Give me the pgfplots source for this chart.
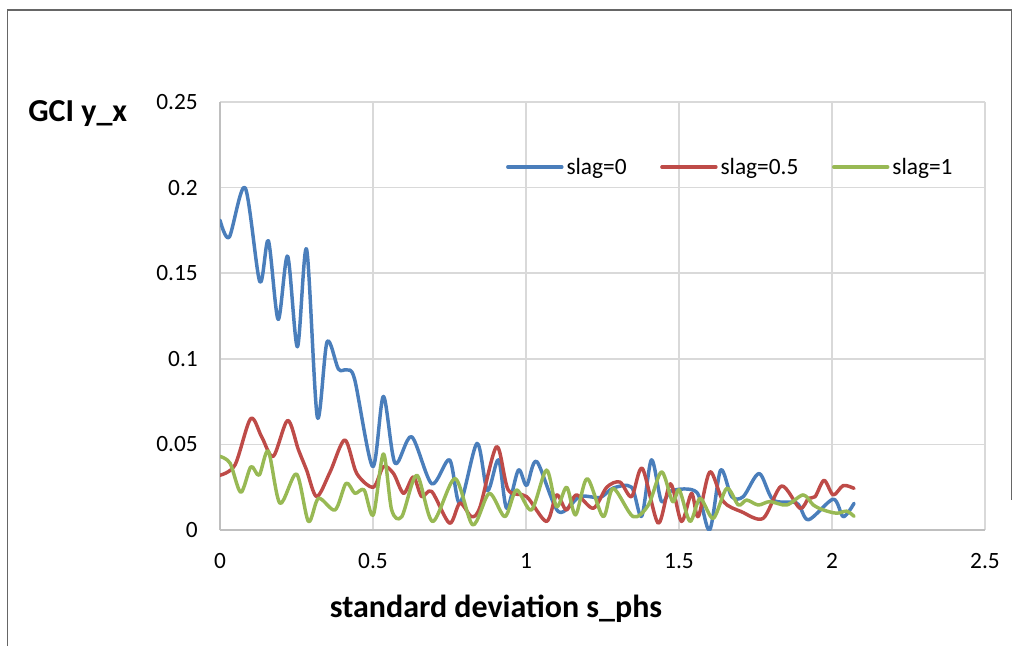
\documentclass[border=0pt]{standalone}
\usepackage{pgfplots}
\pgfplotsset{compat=1.18}
\usepackage{fontspec}
\setmainfont{Carlito}
\definecolor{cblue}{HTML}{4A7EBB}
\definecolor{cred}{HTML}{BE4B48}
\definecolor{cgreen}{HTML}{98B954}
\definecolor{cgrid}{HTML}{D9D9D9}
\definecolor{caxis}{HTML}{BFBFBF}
\begin{document}
\begin{tikzpicture}[x=0.75pt,y=0.75pt]
\path[use as bounding box] (0,0) rectangle (1019,646);
\draw[black!60, line width=1.1pt] (7.5,0) -- (7.5,636) -- (1011.5,636) -- (1011.5,146);
\begin{axis}[
  at={(165pt,87pt)}, anchor=south west,
  scale only axis, width=573.75pt, height=321pt,
  xmin=0, xmax=2.5, ymin=0, ymax=0.25,
  xtick={0,0.5,1,1.5,2,2.5}, xticklabels={0,0.5,1,1.5,2,2.5},
  ytick={0,0.05,0.1,0.15,0.2,0.25}, yticklabels={0,0.05,0.1,0.15,0.2,0.25},
  axis x line*=bottom, axis y line*=left,
  axis line style={draw=caxis, line width=1.5pt, -},
  major tick length=0pt,
  grid=major, major grid style={draw=cgrid, line width=1.1pt},
  /pgf/number format/assume math mode=true,
  ticklabel style={font=\fontsize{17.5}{20}\selectfont},
  yticklabel style={anchor=east, inner sep=0pt, xshift=-16.5pt},
  xticklabel style={anchor=north, inner sep=0pt, yshift=-17.2pt},
  legend columns=3,
  legend style={draw=none, fill=none, inner sep=0pt, outer sep=0pt,
    at={(0.374,0.848)}, anchor=west,
    nodes={inner sep=2.2pt, font=\fontsize{17.5}{20}\selectfont},
    /tikz/every even column/.append style={column sep=23pt}},
  legend image code/.code={\draw[#1] (0pt,0pt) -- (40.5pt,0pt);},
  every axis plot/.append style={line width=2.6pt, line cap=round, line join=round},
]
\addplot[cblue, smooth] coordinates {
(0,0.181) (0.03,0.171) (0.082,0.2) (0.13,0.145) (0.158,0.169) (0.19,0.123)
(0.221,0.16) (0.253,0.107) (0.283,0.164) (0.318,0.066) (0.35,0.11) (0.387,0.094)
(0.414,0.0935) (0.44,0.088) (0.499,0.037) (0.534,0.078) (0.572,0.039) (0.626,0.0545)
(0.692,0.027) (0.75,0.041) (0.784,0.0156) (0.84,0.0506) (0.874,0.023) (0.91,0.041)
(0.937,0.0127) (0.975,0.035) (1.002,0.026) (1.035,0.04) (1.106,0.0107) (1.176,0.0195)
(1.242,0.019) (1.285,0.0245) (1.345,0.025) (1.378,0.008) (1.41,0.041) (1.443,0.0166)
(1.476,0.023) (1.558,0.022) (1.6,0.0) (1.636,0.035) (1.672,0.0195) (1.71,0.0195)
(1.762,0.033) (1.808,0.0175) (1.885,0.0157) (1.923,0.006) (2.004,0.018) (2.037,0.0078)
(2.072,0.0156)};
\addlegendentry{slag=0}
\addplot[cred, smooth] coordinates {
(0,0.032) (0.049,0.038) (0.1,0.065) (0.136,0.0545) (0.174,0.043) (0.221,0.064)
(0.256,0.047) (0.283,0.035) (0.316,0.0195) (0.36,0.034) (0.408,0.0526) (0.447,0.033)
(0.501,0.025) (0.534,0.037) (0.567,0.033) (0.6,0.0214) (0.632,0.031) (0.659,0.0195)
(0.692,0.0225) (0.75,0.004) (0.784,0.0157) (0.822,0.0078) (0.85,0.0136) (0.904,0.0487)
(0.942,0.0234) (1.002,0.0195) (1.067,0.005) (1.1,0.0205) (1.132,0.0117) (1.165,0.0205)
(1.22,0.0127) (1.264,0.025) (1.307,0.028) (1.345,0.0195) (1.38,0.036) (1.432,0.004)
(1.472,0.027) (1.508,0.005) (1.541,0.0214) (1.563,0.0078) (1.601,0.034) (1.645,0.0166)
(1.704,0.0107) (1.775,0.0068) (1.835,0.0257) (1.895,0.0127) (1.923,0.0185) (1.945,0.0195)
(1.974,0.029) (2.004,0.0205) (2.037,0.026) (2.072,0.0243)};
\addlegendentry{slag=0.5}
\addplot[cgreen, smooth] coordinates {
(0,0.043) (0.033,0.039) (0.068,0.022) (0.101,0.037) (0.128,0.032) (0.158,0.046)
(0.196,0.0156) (0.25,0.0327) (0.289,0.005) (0.322,0.0185) (0.376,0.0117) (0.412,0.0273)
(0.441,0.0214) (0.471,0.0234) (0.501,0.0088) (0.534,0.0444) (0.561,0.0117) (0.594,0.0078)
(0.643,0.032) (0.695,0.005) (0.768,0.030) (0.826,0.003) (0.88,0.0214) (0.931,0.0078)
(0.969,0.0234) (1.018,0.0117) (1.067,0.035) (1.1,0.0136) (1.133,0.025) (1.162,0.0088)
(1.2,0.030) (1.252,0.0078) (1.285,0.0243) (1.35,0.0078) (1.4,0.0146) (1.443,0.034)
(1.479,0.0166) (1.501,0.0234) (1.536,0.005) (1.569,0.0185) (1.612,0.0068) (1.656,0.0243)
(1.694,0.0146) (1.721,0.0175) (1.759,0.0146) (1.797,0.0166) (1.852,0.0146) (1.906,0.0205)
(1.939,0.0146) (1.972,0.0117) (2.015,0.0098) (2.048,0.011) (2.072,0.008)};
\addlegendentry{slag=1}
\end{axis}
\node[anchor=base west, inner sep=0pt, font=\bfseries\fontsize{24}{28}\selectfont] at (28,524) {GCI y\_x};
\node[anchor=base, inner sep=0pt, font=\bfseries\fontsize{24}{28}\selectfont] at (496,29) {standard deviation s\_phs};
\end{tikzpicture}
\end{document}
